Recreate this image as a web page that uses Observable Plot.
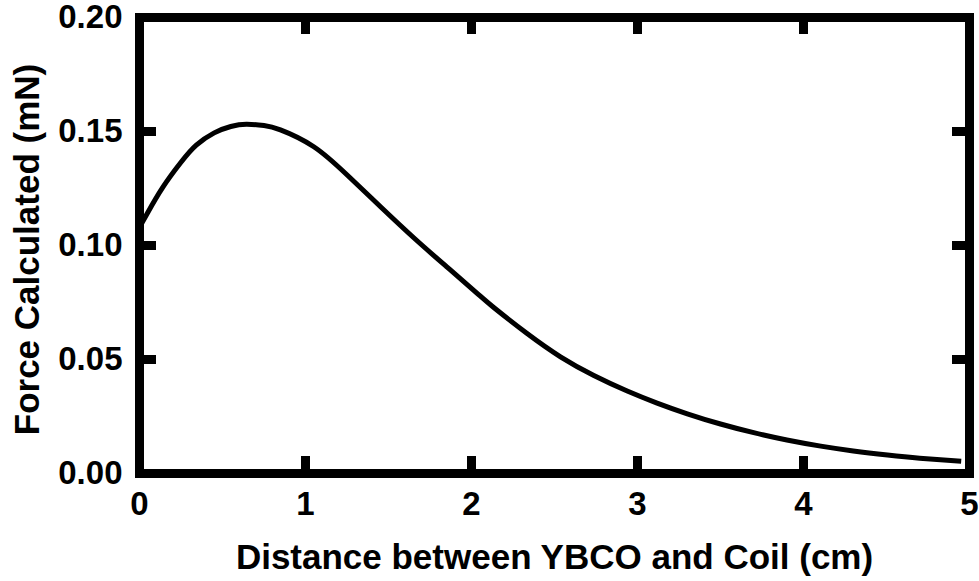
<!DOCTYPE html>
<html>
<head>
<meta charset="utf-8">
<script src="https://cdn.jsdelivr.net/npm/d3@7"></script>
<script src="https://cdn.jsdelivr.net/npm/@observablehq/plot@0.6"></script>
<style>
  html, body { margin: 0; padding: 0; background: #fff; }
  #chart svg { display: block; }
</style>
</head>
<body>
<div id="chart"></div>
<script>
const distance = [0, 0.05, 0.14, 0.25, 0.342, 0.45, 0.55, 0.644, 0.75, 0.849, 1.05, 1.251, 1.452, 1.652, 1.853, 2.034, 2.134, 2.335, 2.536, 2.737, 2.938, 3.118, 3.3, 3.5, 3.7, 3.9, 4.104, 4.3, 4.506, 4.7, 4.95];
const force = [0.108, 0.1145, 0.1255, 0.1365, 0.144, 0.1494, 0.1522, 0.1532, 0.1526, 0.1507, 0.1433, 0.1309, 0.117, 0.1034, 0.0905, 0.079, 0.0728, 0.0614, 0.0512, 0.043, 0.0362, 0.0309, 0.0262, 0.0217, 0.0179, 0.0147, 0.012, 0.0099, 0.0081, 0.0067, 0.0054];
const xTicks = [0, 1, 2, 3, 4, 5];
const yTicks = [0, 0.05, 0.10, 0.15, 0.20];
const xTitle = "Distance between YBCO and Coil (cm)";
const yTitle = "Force Calculated (mN)";

const data = distance.map((d, i) => ({d, f: force[i]}));

const W = 979, H = 581;
const mL = 139, mR = 10, mT = 17, mB = 108;
const pw = W - mL - mR, ph = H - mT - mB;
const tickLen = 17;
const font = "'Liberation Sans', Arial, Helvetica, sans-serif";

const chart = Plot.plot({
  width: W,
  height: H,
  marginLeft: mL,
  marginRight: mR,
  marginTop: mT,
  marginBottom: mB,
  style: {fontFamily: font, fontWeight: "bold", color: "black", background: "white", overflow: "visible"},
  x: {domain: [0, 5]},
  y: {domain: [0, 0.2]},
  marks: [
    Plot.line(data, {x: "d", y: "f", stroke: "black", strokeWidth: 5, curve: "natural", strokeLinecap: "butt"}),
    Plot.tickX(xTicks, {x: d => d, insetTop: ph - tickLen, stroke: "black", strokeWidth: 9}),
    Plot.tickX(xTicks, {x: d => d, insetBottom: ph - tickLen, stroke: "black", strokeWidth: 9}),
    Plot.tickY(yTicks, {y: d => d, insetRight: pw - tickLen, stroke: "black", strokeWidth: 9}),
    Plot.tickY(yTicks, {y: d => d, insetLeft: pw - tickLen, stroke: "black", strokeWidth: 9}),
    Plot.frame({stroke: "black", strokeWidth: 9}),
    Plot.axisX(xTicks, {anchor: "bottom", tickSize: 0, tickPadding: 18, fontSize: 33, fontWeight: "bold", label: null, tickFormat: d => String(d)}),
    Plot.axisY(yTicks, {anchor: "left", tickSize: 0, tickPadding: 17, fontSize: 33, fontWeight: "bold", label: null, tickFormat: d3.format(".2f")}),
    Plot.text([xTitle], {frameAnchor: "bottom", text: d => d, dy: 84, fontSize: 35, fontWeight: "bold", lineAnchor: "middle", textAnchor: "middle", fill: "black"}),
    Plot.text([yTitle], {frameAnchor: "left", text: d => d, dx: -112, dy: 4, rotate: -90, fontSize: 35, fontWeight: "bold", lineAnchor: "middle", textAnchor: "middle", fill: "black"})
  ]
});
document.getElementById("chart").appendChild(chart);
</script>
</body>
</html>
